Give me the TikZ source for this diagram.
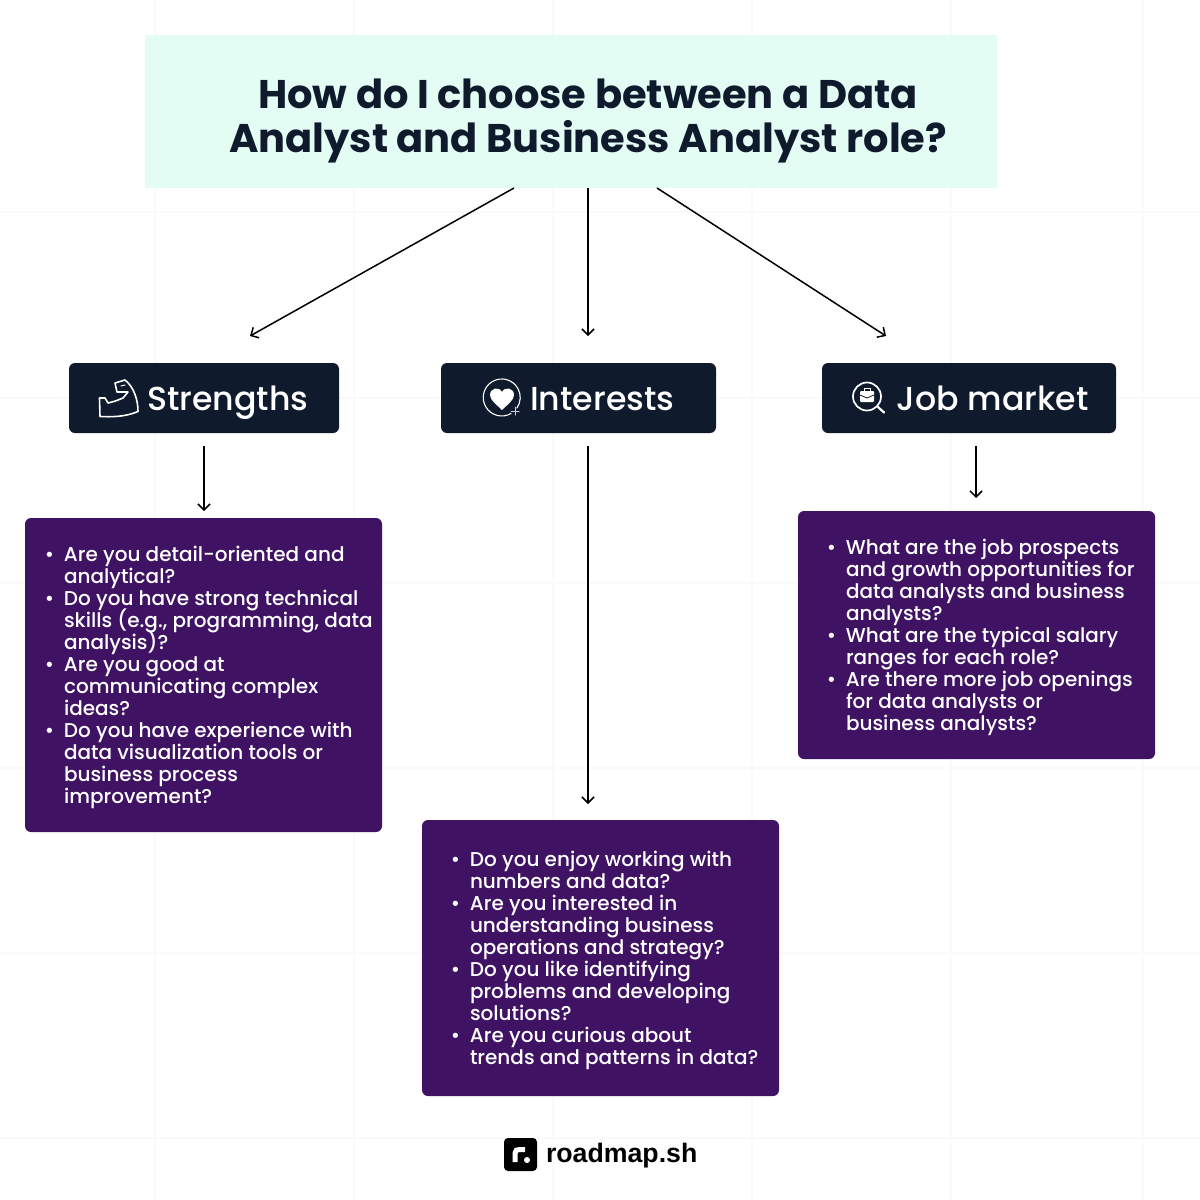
\documentclass[tikz,border=0pt]{standalone}
\usepackage{fontspec}
\usetikzlibrary{arrows.meta}
\setmainfont{Poppins}
\newfontfamily\popmed{Poppins Medium}
\newfontfamily\popsemi{Poppins SemiBold}
\newfontfamily\logofont{Liberation Sans}
\definecolor{navy}{HTML}{0F1A2C}
\definecolor{mint}{HTML}{E3FDF5}
\definecolor{plum}{HTML}{3F1263}
\definecolor{gridc}{HTML}{FAFAFA}
\newcommand{\listfontsetup}{\fontsize{20}{22}\popmed\setlength{\lineskiplimit}{-100pt}\setlength{\lineskip}{0pt}}
\tikzset{
  titlebox/.style={fill=mint,inner sep=0pt,outer sep=0pt,minimum width=852pt,minimum height=153pt},
  titletext/.style={text=navy,inner sep=0pt,outer sep=0pt,align=center,font=\fontsize{40}{44}\selectfont\bfseries},
  headbox/.style={fill=navy,text=white,rounded corners=6pt,inner sep=0pt,outer sep=0pt,minimum height=70pt,text height=24pt,text depth=0pt,font=\fontsize{33.2}{36}\popmed},
  listbox/.style={fill=plum,rounded corners=6pt,inner sep=0pt,outer sep=0pt,minimum width=357pt},
  listtext/.style={text=white,inner sep=0pt,outer sep=0pt,align=left,font=\listfontsetup},
  flow/.style={draw=black,line width=1.5pt,-{Straight Barb[length=6pt,width=12pt,line width=1.5pt]}},
  gridline/.style={draw=gridc,line width=1.5pt},
  iconline/.style={draw=white,line width=1.6pt,line join=round,line cap=round},
  logotext/.style={text=black,inner sep=0pt,outer sep=0pt,font=\fontsize{26.7}{30}\logofont\bfseries}
}
\newcommand{\itm}{\leavevmode\llap{\textbullet\hspace{10pt}}}
\begin{document}
\begin{tikzpicture}[x=1pt,y=-1pt]
\useasboundingbox (0,0) rectangle (1200,1200);
\fill[white] (0,0) rectangle (1200,1200);
% faint background grid
\foreach \gx in {155,354,553,752,951,1143} \draw[gridline] (\gx,0) -- (\gx,1200);
\foreach \gy in {212,398,583,768,953,1138} \draw[gridline] (0,\gy) -- (1200,\gy);
% title
\node[titlebox] (title) at (571,111.5) {};
\node[titletext] (titlelabel) at (588,120.5) {How do I choose between a Data\\Analyst and Business Analyst role?};
% headers
\node[headbox,minimum width=270pt] (strengths) at (204,398) {\hspace*{47.5pt}Strengths};
\node[headbox,minimum width=275pt] (interests) at (578.5,398) {\hspace*{47.5pt}Interests};
\node[headbox,minimum width=294pt] (jobmarket) at (969,398) {\hspace*{47pt}Job market};
% list boxes
\node[listbox,minimum height=314pt] (boxA) at (203.5,675) {};
\node[listbox,minimum height=276pt] (boxB) at (600.5,958) {};
\node[listbox,minimum height=248pt] (boxC) at (976.5,635) {};
\node[listtext,anchor=north west] (textA) at (64,546) {\itm Are you detail-oriented and\\analytical?\\\itm Do you have strong technical\\skills (e.g., programming, data\\analysis)?\\\itm Are you good at\\communicating complex\\ideas?\\\itm Do you have experience with\\data visualization tools or\\business process\\improvement?};
\node[listtext,anchor=north west] (textB) at (470,851) {\itm Do you enjoy working with\\numbers and data?\\\itm Are you interested in\\understanding business\\operations and strategy?\\\itm Do you like identifying\\problems and developing\\solutions?\\\itm Are you curious about\\trends and patterns in data?};
\node[listtext,anchor=north west] (textC) at (846,539) {\itm What are the job prospects\\and growth opportunities for\\data analysts and business\\analysts?\\\itm What are the typical salary\\ranges for each role?\\\itm Are there more job openings\\for data analysts or\\business analysts?};
% connector ends
\coordinate (t1) at (514,188);
\coordinate (t2) at (588,188);
\coordinate (t3) at (657,188);
\coordinate (e1) at (250,336);
\coordinate (e2) at (588,336);
\coordinate (e3) at (886,336);
\coordinate (s1) at (204,446);
\coordinate (s2) at (588,446);
\coordinate (s3) at (976,446);
\coordinate (b1) at (204,511);
\coordinate (b2) at (588,804);
\coordinate (b3) at (976,498);
\draw[flow] (t1) -- (e1);
\draw[flow] (t2) -- (e2);
\draw[flow] (t3) -- (e3);
\draw[flow] (s1) -- (b1);
\draw[flow] (s2) -- (b2);
\draw[flow] (s3) -- (b3);
% muscle icon
\draw[iconline] (100,416.5) -- (99.5,398) -- (105,398) -- (108,403)
  .. controls (112,402) and (116,401) .. (118,400) -- (123,398) -- (128,392) -- (117,392)
  -- (115,383) -- (125,380)
  .. controls (134,387) and (138,400) .. (138,411.5)
  .. controls (125,417) and (112,417) .. (100,416.5) -- cycle;
\draw[iconline,line width=1pt] (121,386) -- (125,385);
% heart icon
\draw[iconline,line width=1.1pt] (511,413.5) arc[start angle=60,end angle=395,radius=18.5];
\fill[white] (502,410) .. controls (496,404) and (490,400) .. (490,395)
  .. controls (490,388) and (499,386) .. (502,392)
  .. controls (505,386) and (514,388) .. (514,395)
  .. controls (514,400) and (508,404) .. (502,410) -- cycle;
\draw[iconline,line width=1pt,draw=white!80!navy] (515,407) -- (515,415) (511,411) -- (519,411);
% job icon
\draw[iconline,line width=1.7pt] (867,396.5) circle[radius=14];
\draw[iconline,line width=2.2pt] (878,407) -- (884,412.5);
\fill[white,rounded corners=1pt] (860,391) rectangle (874,402);
\draw[iconline,line width=1pt] (864,391) -- (864,388) -- (870,388) -- (870,391);
\draw[navy,line width=.8pt] (860,395) -- (867,398) -- (874,395);
% logo
\fill[black,rounded corners=4pt] (504,1138) rectangle (537,1171);
\draw[white,line width=5pt] (515,1162) -- (515,1153) .. controls (515,1150) and (517,1149.5) .. (520,1149.5) -- (525,1149.5);
\fill[white] (527,1160) circle[radius=3];
\node[logotext,anchor=west] (logo) at (546,1155.5) {roadmap.sh};
\end{tikzpicture}
\end{document}
